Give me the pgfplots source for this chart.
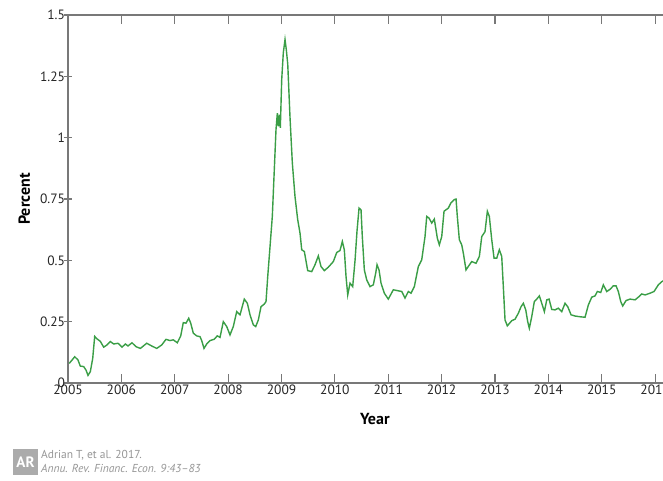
\documentclass[border=0pt]{standalone}
\usepackage{pgfplots}
\pgfplotsset{compat=1.18}
\usepackage{fontspec}
\setmainfont{PT Sans}
\definecolor{linegreen}{RGB}{58,158,70}
\definecolor{axgray}{RGB}{120,120,120}
\definecolor{txtgray}{RGB}{150,150,150}
\begin{document}
\begin{tikzpicture}
\useasboundingbox (0,0) rectangle (663pt,480pt);
\fill[white] (0,0) rectangle (663pt,480pt);
\clip (0,0) rectangle (663pt,480pt);
\begin{axis}[
  scale only axis,
  width=613.8pt, height=368pt,
  at={(68pt,97pt)}, anchor=south west,
  xmin=2005, xmax=2016.5, ymin=0, ymax=1.5,
  xtick={2005,2006,...,2016},
  ytick={0,0.25,0.5,0.75,1,1.25,1.5},
  /pgf/number format/1000 sep={},
  /pgf/number format/assume math mode=true,
  axis line style={axgray, line width=1.3pt},
  every tick/.style={axgray, line width=1.2pt},
  major tick length=9pt,
  xtick pos=both, xtick align=inside,
  ytick pos=left, ytick align=center,
  tick label style={font=\fontsize{13.5}{15}\selectfont, text=black!85},
  yticklabel style={xshift=5pt},
  xticklabel style={yshift=2pt},
  xlabel={\textbf{Year}}, ylabel={\textbf{Percent}},
  label style={font=\fontsize{16}{18}\selectfont},
  xlabel style={yshift=-12pt},
  ylabel style={yshift=3pt},
]
\addplot[linegreen, line width=1.4pt] coordinates {
(2005.024,0.080) (2005.126,0.107) (2005.187,0.094) (2005.230,0.069) (2005.294,0.067)
(2005.337,0.053) (2005.375,0.031) (2005.418,0.046) (2005.463,0.100) (2005.500,0.190)
(2005.543,0.180) (2005.605,0.170) (2005.669,0.146) (2005.731,0.155) (2005.793,0.169)
(2005.856,0.159) (2005.937,0.162) (2006.012,0.146) (2006.074,0.159) (2006.124,0.151)
(2006.199,0.164) (2006.274,0.148) (2006.355,0.141) (2006.475,0.162) (2006.568,0.151)
(2006.662,0.141) (2006.756,0.155) (2006.836,0.178) (2006.911,0.173) (2006.973,0.176)
(2007.048,0.164) (2007.112,0.192) (2007.160,0.246) (2007.211,0.244) (2007.262,0.264)
(2007.299,0.244) (2007.348,0.203) (2007.411,0.192) (2007.473,0.189) (2007.505,0.173)
(2007.548,0.141) (2007.599,0.159) (2007.661,0.173) (2007.736,0.178) (2007.797,0.192)
(2007.848,0.186) (2007.910,0.250) (2007.974,0.230) (2008.035,0.196) (2008.097,0.230)
(2008.161,0.291) (2008.223,0.278) (2008.303,0.342) (2008.360,0.325) (2008.410,0.278)
(2008.472,0.237) (2008.517,0.230) (2008.566,0.257) (2008.616,0.311) (2008.678,0.322)
(2008.710,0.332) (2008.742,0.434) (2008.785,0.556) (2008.828,0.679) (2008.865,0.869)
(2008.897,1.033) (2008.922,1.100) (2008.940,1.046) (2008.959,1.094) (2008.978,1.040)
(2009.004,1.237) (2009.034,1.346) (2009.066,1.400) (2009.090,1.359) (2009.117,1.300)
(2009.160,1.080) (2009.203,0.897) (2009.253,0.760) (2009.304,0.665) (2009.347,0.611)
(2009.379,0.543) (2009.428,0.536) (2009.491,0.458) (2009.566,0.454) (2009.628,0.482)
(2009.690,0.518) (2009.740,0.475) (2009.802,0.458) (2009.877,0.472) (2009.971,0.495)
(2010.035,0.532) (2010.096,0.540) (2010.140,0.577) (2010.177,0.543) (2010.209,0.434)
(2010.241,0.359) (2010.284,0.407) (2010.334,0.393) (2010.378,0.500) (2010.415,0.620)
(2010.453,0.713) (2010.490,0.706) (2010.514,0.597) (2010.552,0.461) (2010.597,0.420)
(2010.659,0.393) (2010.720,0.400) (2010.765,0.448) (2010.790,0.482) (2010.827,0.461)
(2010.865,0.407) (2010.927,0.366) (2011.001,0.342) (2011.095,0.380) (2011.159,0.377)
(2011.253,0.373) (2011.314,0.346) (2011.376,0.373) (2011.427,0.366) (2011.489,0.393)
(2011.564,0.475) (2011.627,0.502) (2011.689,0.597) (2011.721,0.679) (2011.764,0.672)
(2011.815,0.652) (2011.863,0.668) (2011.920,0.590) (2011.957,0.563) (2012.002,0.597)
(2012.045,0.700) (2012.126,0.713) (2012.171,0.733) (2012.233,0.747) (2012.270,0.750)
(2012.294,0.679) (2012.332,0.584) (2012.377,0.563) (2012.407,0.529) (2012.457,0.461)
(2012.500,0.475) (2012.564,0.495) (2012.645,0.488) (2012.707,0.516) (2012.752,0.597)
(2012.813,0.617) (2012.857,0.700) (2012.894,0.679) (2012.939,0.584) (2012.982,0.509)
(2013.033,0.509) (2013.081,0.543) (2013.126,0.516) (2013.156,0.393) (2013.188,0.257)
(2013.231,0.233) (2013.314,0.254) (2013.375,0.260) (2013.437,0.284) (2013.488,0.311)
(2013.531,0.325) (2013.576,0.298) (2013.613,0.250) (2013.643,0.223) (2013.688,0.270)
(2013.737,0.332) (2013.782,0.342) (2013.831,0.355) (2013.876,0.325) (2013.925,0.291)
(2013.970,0.339) (2014.013,0.342) (2014.063,0.300) (2014.125,0.298) (2014.187,0.305)
(2014.251,0.291) (2014.312,0.325) (2014.363,0.311) (2014.425,0.278) (2014.500,0.273)
(2014.593,0.270) (2014.687,0.268) (2014.749,0.318) (2014.813,0.350) (2014.874,0.355)
(2014.918,0.373) (2014.981,0.369) (2015.030,0.400) (2015.094,0.373) (2015.156,0.382)
(2015.217,0.396) (2015.268,0.396) (2015.311,0.373) (2015.356,0.332) (2015.393,0.314)
(2015.455,0.336) (2015.530,0.342) (2015.624,0.339) (2015.686,0.350) (2015.750,0.363)
(2015.812,0.359) (2015.905,0.366) (2015.980,0.373) (2016.060,0.400) (2016.124,0.413)
(2016.186,0.420)
};
\end{axis}
% footer
\fill[txtgray!80] (13pt,5pt) rectangle (38pt,31pt);
\node[white, font=\bfseries\fontsize{15}{15}\selectfont, inner sep=0pt] at (25.5pt,18pt) {AR};
\node[anchor=west, txtgray, font=\fontsize{11.5}{12}\selectfont, inner sep=0pt] at (41pt,25pt) {Adrian T, et al. 2017.};
\node[anchor=west, txtgray, font=\itshape\fontsize{11.5}{12}\selectfont, inner sep=0pt] at (41pt,11.5pt) {Annu. Rev. Financ. Econ. 9:43–83};
\end{tikzpicture}
\end{document}
